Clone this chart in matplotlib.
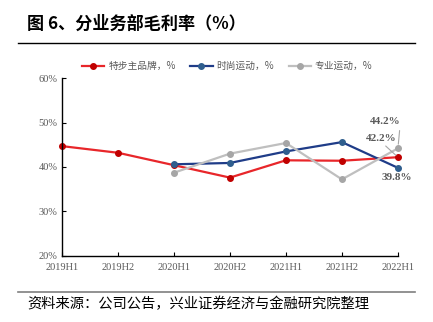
import matplotlib.pyplot as plt
from matplotlib.ticker import PercentFormatter
from matplotlib.lines import Line2D

plt.rcParams['font.family'] = ['Noto Sans CJK SC', 'DejaVu Sans']

periods = ['2019H1', '2019H2', '2020H1', '2020H2', '2021H1', '2021H2', '2022H1']
main_brand = [44.7, 43.2, 40.4, 37.6, 41.5, 41.4, 42.2]
fashion = [None, None, 40.6, 40.9, 43.5, 45.6, 39.8]
pro_sport = [None, None, 38.7, 43.0, 45.4, 37.2, 44.2]
series_names = ['特步主品牌，%', '时尚运动，%', '专业运动，%']

fig = plt.figure(figsize=(4.33, 3.22), dpi=100)
ax = fig.add_axes([0.143, 0.206, 0.776, 0.551])

x = list(range(len(periods)))
styles = [('#E8262A', '#C00000'), ('#1F3C88', '#2F5E8E'), ('#BFBFBF', '#A6A6A6')]
for vals, (lc, mc) in zip([main_brand, fashion, pro_sport], styles):
    xs = [i for i, v in zip(x, vals) if v is not None]
    ys = [v for v in vals if v is not None]
    ax.plot(xs, ys, color=lc, lw=1.6, marker='o', ms=4, mfc=mc, mec=mc, clip_on=False)

ax.set_ylim(20, 60)
ax.set_xlim(0, len(periods) - 1)
ax.set_yticks([20, 30, 40, 50, 60])
ax.yaxis.set_major_formatter(PercentFormatter(decimals=0))
ax.set_xticks(x)
ax.set_xticklabels(periods)
for lab in ax.get_xticklabels() + ax.get_yticklabels():
    lab.set_family('Liberation Serif')
    lab.set_fontsize(7.5)
    lab.set_color('#595959')
ax.tick_params(axis='x', direction='in', length=3, pad=5, color='black')
ax.tick_params(axis='y', direction='in', length=3, pad=3, color='black')
ax.spines['top'].set_visible(False)
ax.spines['right'].set_visible(False)
for s in ['left', 'bottom']:
    ax.spines[s].set_color('black')
    ax.spines[s].set_linewidth(1.0)

# end labels
last = len(periods) - 1
ann_kw = dict(fontsize=8, fontweight='bold', color='#595959', family='Liberation Serif',
              ha='center')
ax.annotate(f'{pro_sport[last]:.1f}%', xy=(last, pro_sport[last]), xytext=(last - 0.22, 49.6),
            arrowprops=dict(arrowstyle='-', color='#A6A6A6', lw=0.8,
                            shrinkA=1, shrinkB=3, relpos=(0.97, 0)), **ann_kw)
ax.annotate(f'{main_brand[last]:.1f}%', xy=(last, main_brand[last]), xytext=(last - 0.3, 45.8),
            arrowprops=dict(arrowstyle='-', color='#A6A6A6', lw=0.8,
                            shrinkA=0, shrinkB=2, relpos=(0.55, 0)), **ann_kw)
ax.annotate(f'{fashion[last]:.1f}%', xy=(last, fashion[last]), xytext=(last - 0.02, 37.0), **ann_kw)

handles = [Line2D([], [], color=lc, lw=1.6, marker='o', ms=4, mfc=mc, mec=mc)
           for lc, mc in styles]
leg = fig.legend(handles, series_names, loc='center', bbox_to_anchor=(0.525, 0.795), ncol=3,
                 frameon=False, fontsize=7, handlelength=2.3, columnspacing=1.5,
                 handletextpad=0.4)
for t in leg.get_texts():
    t.set_color('#595959')

fig.text(0.062, 0.925, '图 6、分业务部毛利率（%）', fontsize=12.3, fontweight='bold', va='center')
fig.add_artist(Line2D([0.042, 0.958], [0.865, 0.865], color='black', lw=1.0))
fig.add_artist(Line2D([0.042, 0.958], [0.092, 0.092], color='#7F7F7F', lw=1.2))
fig.text(0.062, 0.055, '资料来源：公司公告，兴业证券经济与金融研究院整理', fontsize=10.3, va='center')

fig.savefig('out.png', dpi=100)
